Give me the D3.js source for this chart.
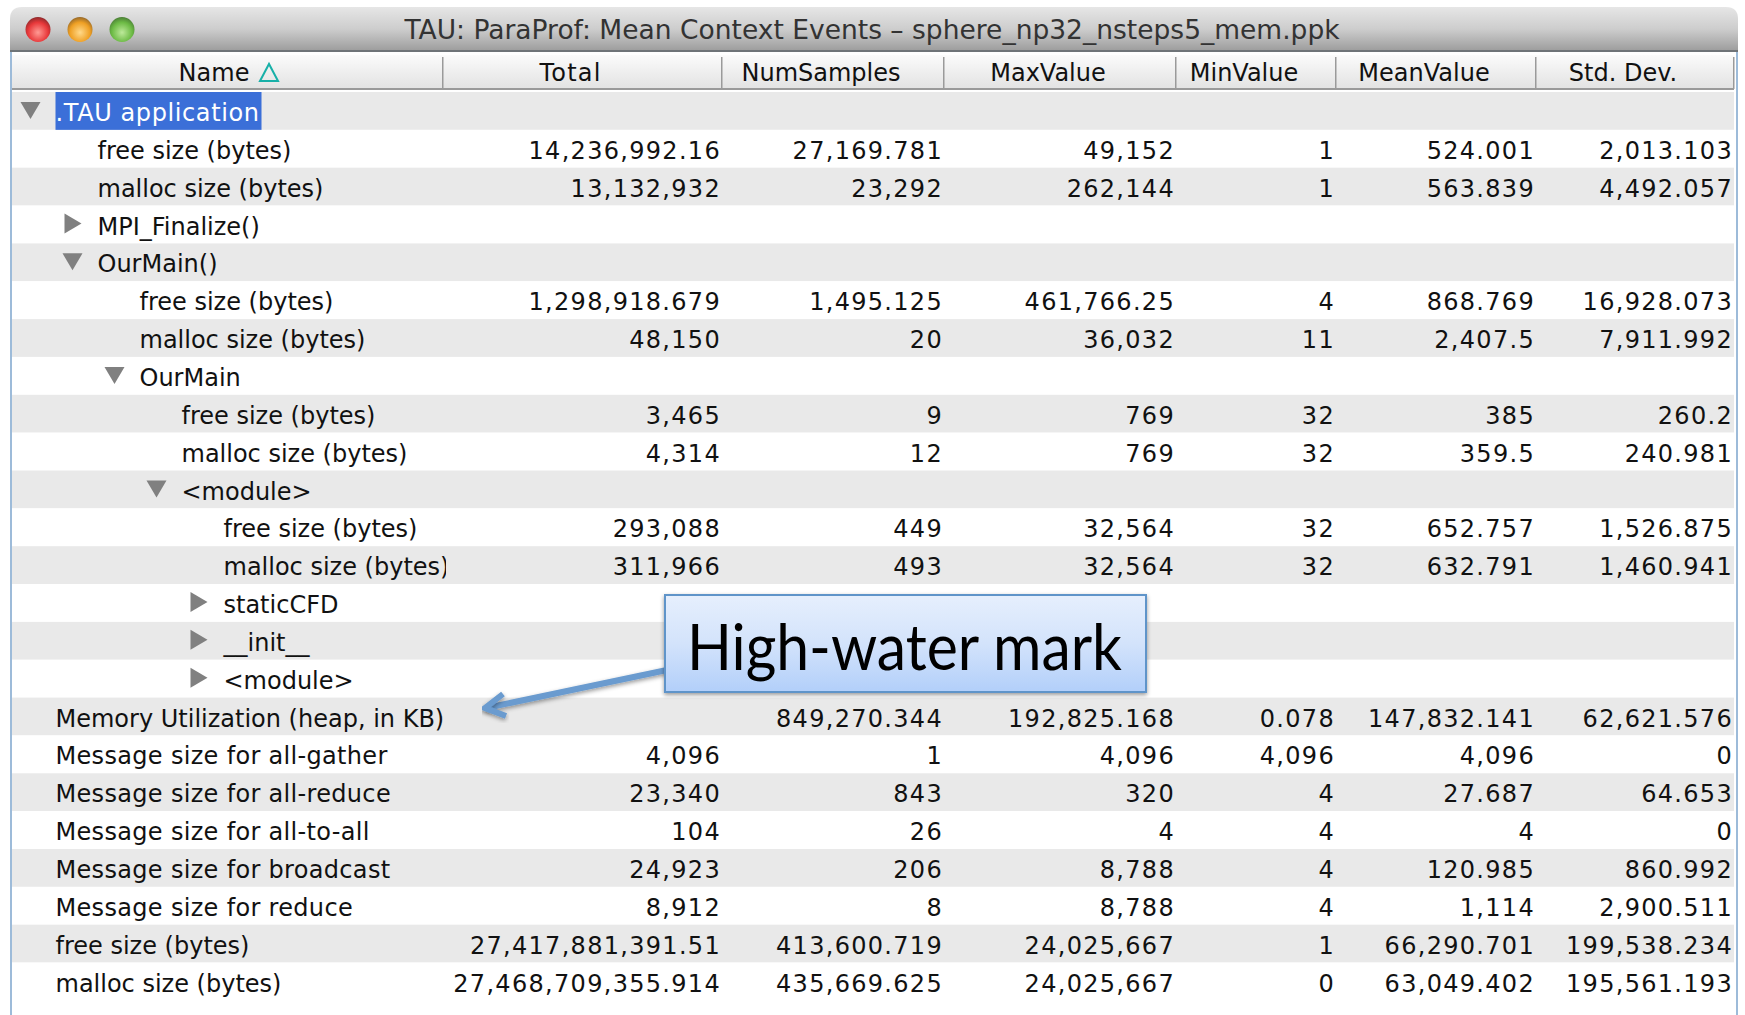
<!DOCTYPE html>
<html>
<head>
<meta charset="utf-8">
<script src="https://cdn.jsdelivr.net/npm/d3@7/dist/d3.min.js"></script>
<style>
    html, body { margin: 0; padding: 0; background: #fff; overflow: hidden; }
    text { font-family: "DejaVu Sans", sans-serif; }
    .cell { font-size: 24px; fill: #111; }
</style>
</head>
<body>
<script>
// DATA

const title = "TAU: ParaProf: Mean Context Events \u2013 sphere_np32_nsteps5_mem.ppk";
const columns = ["Name", "Total", "NumSamples", "MaxValue", "MinValue", "MeanValue", "Std. Dev."];

const names = [".TAU application", "free size (bytes)", "malloc size (bytes)", "MPI_Finalize()", "OurMain()",
    "free size (bytes)", "malloc size (bytes)", "OurMain", "free size (bytes)", "malloc size (bytes)", "<module>",
    "free size (bytes)", "malloc size (bytes)", "staticCFD", "__init__", "<module>",
    "Memory Utilization (heap, in KB)", "Message size for all-gather", "Message size for all-reduce",
    "Message size for all-to-all", "Message size for broadcast", "Message size for reduce",
    "free size (bytes)", "malloc size (bytes)"];
const depth = [0, 1, 1, 1, 1, 2, 2, 2, 3, 3, 3, 4, 4, 4, 4, 4, 0, 0, 0, 0, 0, 0, 0, 0];
// "open" / "closed" tree handles, "" for leaves
const handles = ["open", "", "", "closed", "open", "", "", "open", "", "", "open", "", "", "closed", "closed", "closed",
    "", "", "", "", "", "", "", ""];

const total = ["", "14,236,992.16", "13,132,932", "", "", "1,298,918.679", "48,150", "", "3,465", "4,314", "",
    "293,088", "311,966", "", "", "", "", "4,096", "23,340", "104", "24,923", "8,912",
    "27,417,881,391.51", "27,468,709,355.914"];
const numSamples = ["", "27,169.781", "23,292", "", "", "1,495.125", "20", "", "9", "12", "",
    "449", "493", "", "", "", "849,270.344", "1", "843", "26", "206", "8", "413,600.719", "435,669.625"];
const maxValue = ["", "49,152", "262,144", "", "", "461,766.25", "36,032", "", "769", "769", "",
    "32,564", "32,564", "", "", "", "192,825.168", "4,096", "320", "4", "8,788", "8,788", "24,025,667", "24,025,667"];
const minValue = ["", "1", "1", "", "", "4", "11", "", "32", "32", "",
    "32", "32", "", "", "", "0.078", "4,096", "4", "4", "4", "4", "1", "0"];
const meanValue = ["", "524.001", "563.839", "", "", "868.769", "2,407.5", "", "385", "359.5", "",
    "652.757", "632.791", "", "", "", "147,832.141", "4,096", "27.687", "4", "120.985", "1,114", "66,290.701", "63,049.402"];
const stdDev = ["", "2,013.103", "4,492.057", "", "", "16,928.073", "7,911.992", "", "260.2", "240.981", "",
    "1,526.875", "1,460.941", "", "", "", "62,621.576", "0", "64.653", "0", "860.992", "2,900.511", "199,538.234", "195,561.193"];
const valueColumns = [total, numSamples, maxValue, minValue, meanValue, stdDev];

const calloutText = "High-water mark";

// CONSTANTS

const width = 1745, height = 1015;
const winLeft = 10, winRight = 1738, winTop = 7;
const headTop = 55, headBottom = 90;
const rowTop = 92, rowHeight = 37.85;
const baseline = 29; // text baseline inside a row
const colEdges = [12, 443, 722, 944, 1176, 1336, 1536, 1734];
const callout = { x: 665, y: 595, w: 481, h: 97 };

// SCALES

const y = d3.scaleBand().domain(d3.range(names.length)).range([rowTop, rowTop + names.length * rowHeight]);
const colLeft = d3.scaleOrdinal().domain(columns).range(colEdges.slice(0, -1));
const colRight = d3.scaleOrdinal().domain(columns).range(colEdges.slice(1));
const indent = d3.scaleLinear().domain([0, 4]).range([55.5, 223.5]);

const svg = d3.select("body").append("svg").attr("width", width).attr("height", height);
const defs = svg.append("defs");

function gradient(id, stops) {
    const g = defs.append("linearGradient").attr("id", id).attr("x1", 0).attr("x2", 0).attr("y1", 0).attr("y2", 1);
    stops.forEach(s => g.append("stop").attr("offset", s[0]).attr("stop-color", s[1]));
}
gradient("titleBar", [[0, "#e6e6e6"], [0.5, "#cdcdcd"], [1, "#9c9c9c"]]);
gradient("headBar", [[0, "#fbfbfb"], [0.5, "#eeeeee"], [1, "#e2e2e2"]]);
gradient("calloutFill", [[0, "#e6effd"], [0.5, "#d3e3fb"], [1, "#b2cffa"]]);

function lightGrad(id, top, mid, bottom) {
    const g = defs.append("radialGradient").attr("id", id).attr("cx", 0.5).attr("cy", 0.62).attr("r", 0.62);
    g.append("stop").attr("offset", 0).attr("stop-color", top);
    g.append("stop").attr("offset", 0.65).attr("stop-color", mid);
    g.append("stop").attr("offset", 1).attr("stop-color", bottom);
}
lightGrad("lightRed", "#ff9a94", "#e8383a", "#8e2a2c");
lightGrad("lightYellow", "#ffd98a", "#efa024", "#96692a");
lightGrad("lightGreen", "#bde99a", "#6dbb45", "#4b7f36");

const shadow = defs.append("filter").attr("id", "shadow").attr("x", "-10%").attr("y", "-20%").attr("width", "120%").attr("height", "150%");
shadow.append("feDropShadow").attr("dx", 0).attr("dy", 2).attr("stdDeviation", 2).attr("flood-color", "#000").attr("flood-opacity", 0.4);

defs.append("clipPath").attr("id", "nameClip").append("rect")
    .attr("x", colEdges[0]).attr("y", rowTop).attr("width", colEdges[1] - colEdges[0] + 3).attr("height", height - rowTop);

// WINDOW

svg.append("path")
    .attr("d", `M${winLeft},51 V${winTop + 12} Q${winLeft},${winTop} ${winLeft + 12},${winTop} H${winRight - 12} Q${winRight},${winTop} ${winRight},${winTop + 12} V51 Z`)
    .attr("fill", "url(#titleBar)");
svg.append("rect").attr("x", winLeft).attr("y", 50).attr("width", winRight - winLeft).attr("height", 2).attr("fill", "#6f7478");
svg.append("rect").attr("x", winLeft).attr("y", 52).attr("width", 2).attr("height", height - 52).attr("fill", "#9dbbd9");
svg.append("rect").attr("x", winRight - 2).attr("y", 52).attr("width", 2).attr("height", height - 52).attr("fill", "#9dbbd9");

svg.selectAll(".light").data(["lightRed", "lightYellow", "lightGreen"]).join("ellipse")
    .attr("class", "light")
    .attr("cx", (d, i) => 38 + i * 42)
    .attr("cy", 29.5)
    .attr("rx", 12.5).attr("ry", 12.5)
    .attr("fill", d => `url(#${d})`);

svg.append("text")
    .attr("x", 872).attr("y", 39)
    .attr("text-anchor", "middle")
    .attr("fill", "#333")
    .style("font-size", "26.5px")
    .text(title);

// HEADER

svg.append("rect").attr("x", colEdges[0]).attr("y", headTop).attr("width", colEdges[7] - colEdges[0]).attr("height", headBottom - headTop).attr("fill", "url(#headBar)");
svg.append("rect").attr("x", colEdges[0]).attr("y", headBottom - 2).attr("width", colEdges[7] - colEdges[0]).attr("height", 2).attr("fill", "#9a9a9a");

svg.selectAll(".sep").data(columns).join("rect")
    .attr("class", "sep")
    .attr("x", d => colRight(d) - 1)
    .attr("y", headTop + 2)
    .attr("width", 1.5)
    .attr("height", headBottom - headTop - 3)
    .attr("fill", "#9a9a9a");

svg.selectAll(".head").data(columns).join("text")
    .attr("class", "head cell")
    .attr("x", (d, i) => i === 0 ? 214 : (colLeft(d) + colRight(d)) / 2 - 12)
    .attr("y", 81)
    .attr("text-anchor", "middle")
    .style("letter-spacing", (d, i) => i === 1 ? "1.2px" : null)
    .text(d => d);

svg.append("path")
    .attr("d", "M260,81 L269,64 L278,81 Z")
    .attr("fill", "none").attr("stroke", "#18b0a8").attr("stroke-width", 2);

// ROWS

svg.selectAll(".stripe").data(names).join("rect")
    .attr("class", "stripe")
    .attr("x", colEdges[0])
    .attr("y", (d, i) => y(i))
    .attr("width", colEdges[7] - colEdges[0])
    .attr("height", y.bandwidth())
    .attr("fill", (d, i) => i % 2 === 0 ? "#e9e9e9" : "#fff");

// selected row highlight
svg.append("rect")
    .attr("x", indent(0)).attr("y", y(0))
    .attr("width", 206).attr("height", y.bandwidth())
    .attr("fill", "#3b6fd8");

svg.selectAll(".handle").data(handles).join("path")
    .attr("class", "handle")
    .attr("fill", "#808080")
    .attr("transform", (d, i) => `translate(${indent(depth[i]) - 25},${y(i) + y.bandwidth() / 2 - 1})`)
    .attr("d", d => d === "open" ? "M-10,-8 H10 L0,9 Z" : d === "closed" ? "M-8,-10 L9,0 L-8,10 Z" : null);

svg.append("g").attr("clip-path", "url(#nameClip)")
    .selectAll("text").data(names).join("text")
    .attr("class", "cell")
    .attr("x", (d, i) => indent(depth[i]))
    .attr("y", (d, i) => y(i) + baseline)
    .style("fill", (d, i) => i === 0 ? "#fff" : "#111")
    .style("letter-spacing", (d, i) => i === 0 ? "0.6px" : d.startsWith("Message") ? "0.32px" : null)
    .text(d => d);

// the numbers in the reference are spaced wider than the names
valueColumns.forEach((values, c) => {
    svg.append("g").selectAll("text").data(values).join("text")
        .attr("class", "cell")
        .attr("x", colRight(columns[c + 1]) - 1)
        .attr("y", (d, i) => y(i) + baseline)
        .attr("text-anchor", "end")
        .style("letter-spacing", "1.3px")
        .text(d => d);
});

// CALLOUT

svg.append("line")
    .attr("x1", callout.x + 2).attr("y1", 670)
    .attr("x2", 486).attr("y2", 708)
    .attr("stroke", "#6a9bcf").attr("stroke-width", 6).attr("filter", "url(#shadow)");
svg.append("path")
    .attr("d", "M503,694 L485,708 L506,716")
    .attr("fill", "none").attr("stroke", "#6a9bcf").attr("stroke-width", 6).attr("filter", "url(#shadow)");

svg.append("rect")
    .attr("x", callout.x).attr("y", callout.y)
    .attr("width", callout.w).attr("height", callout.h)
    .attr("fill", "url(#calloutFill)")
    .attr("stroke", "#5f94c9").attr("stroke-width", 2)
    .attr("filter", "url(#shadow)");

svg.append("text")
    .attr("x", callout.x + callout.w / 2 - 1)
    .attr("y", 670)
    .attr("text-anchor", "middle")
    .attr("fill", "#000")
    .attr("textLength", 435)
    .attr("lengthAdjust", "spacingAndGlyphs")
    .style("font-family", "Lato, sans-serif")
    .style("font-size", "63px")
    .text(calloutText);
</script>
</body>
</html>
